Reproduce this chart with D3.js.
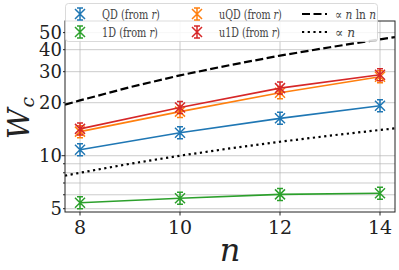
<!DOCTYPE html>
<html><head><meta charset="utf-8">
<script src="https://cdn.jsdelivr.net/npm/d3@7"></script>
<style>body{margin:0;background:#fff}svg{display:block}text{font-family:"DejaVu Serif",serif}</style>
</head><body>
<script>
const nVals = [8, 10, 12, 14];
const qd = [10.8, 13.5, 16.3, 19.2];
const uqd = [13.7, 17.8, 22.8, 28.1];
const oneD = [5.41, 5.73, 6.03, 6.12];
const u1d = [14.2, 18.8, 24.2, 28.8];
const refN = [7.7, 8, 9, 10, 11, 12, 13, 14, 14.3];
const refNlnN = [19.5, 20.6, 24.5, 28.6, 32.7, 37.0, 41.3, 45.8, 47.2];
const refLinear = [7.7, 8, 9, 10, 11, 12, 13, 14, 14.3];
const xTicks = [8, 10, 12, 14];
const yTicksMajor = [5, 10, 20, 30, 40, 50];
const yGrid = [5, 6, 7, 8, 9, 10, 20, 30, 40, 50];

const series = [
  {name: "QD", values: qd, color: "#1f77b4"},
  {name: "1D", values: oneD, color: "#2ca02c"},
  {name: "uQD", values: uqd, color: "#ff7f0e"},
  {name: "u1D", values: u1d, color: "#d62728"}
];

const W = 399, H = 270;
const L = 65, R = 395, T = 21, B = 212;
const svg = d3.select("body").append("svg").attr("width", W).attr("height", H);
const x = d3.scaleLinear().domain([7.7, 14.3]).range([L, R]);
const y = d3.scaleLog().domain([4.79, 58.2]).range([B, T]);

svg.append("clipPath").attr("id","c").append("rect").attr("x",L).attr("y",T).attr("width",R-L).attr("height",B-T);

// grid
const g = svg.append("g");
g.selectAll(".vg").data(xTicks).enter().append("line")
  .attr("x1", d=>x(d)).attr("x2", d=>x(d)).attr("y1", T).attr("y2", B)
  .attr("stroke", "#b0b0b0").attr("stroke-width", 0.8).attr("opacity", 0.8);
g.selectAll(".hg").data(yGrid).enter().append("line")
  .attr("x1", L).attr("x2", R).attr("y1", d=>y(d)).attr("y2", d=>y(d))
  .attr("stroke", "#b0b0b0").attr("stroke-width", 0.8).attr("opacity", 0.8);

// reference lines
const refLine = d3.line().x(d=>x(d[0])).y(d=>y(d[1]));
const pg = svg.append("g").attr("clip-path","url(#c)");
pg.append("path").attr("d", refLine(refN.map((n,i)=>[n, refNlnN[i]])))
  .attr("fill","none").attr("stroke","#000").attr("stroke-width",2.2).attr("stroke-dasharray","8,3.5");
pg.append("path").attr("d", refLine(refN.map((n,i)=>[n, refLinear[i]])))
  .attr("fill","none").attr("stroke","#000").attr("stroke-width",2.2).attr("stroke-dasharray","2.2,3.5");

function marker(sel, cx, cy, color) {
  const s = 5;
  sel.append("path")
    .attr("d", `M${cx-s},${cy-s}L${cx+s},${cy+s}M${cx-s},${cy+s}L${cx+s},${cy-s}M${cx},${cy-s-1}L${cx},${cy+s+1}M${cx-3},${cy-s-1}L${cx+3},${cy-s-1}M${cx-3},${cy+s+1}L${cx+3},${cy+s+1}`)
    .attr("stroke", color).attr("stroke-width", 1.5).attr("fill","none");
}

series.forEach(s => {
  pg.append("path").attr("d", refLine(nVals.map((n,i)=>[n, s.values[i]])))
    .attr("fill","none").attr("stroke", s.color).attr("stroke-width", 1.6);
  nVals.forEach((n,i)=> marker(pg, x(n), y(s.values[i]), s.color));
});

// spines
svg.append("rect").attr("x",L).attr("y",T).attr("width",R-L).attr("height",B-T)
  .attr("fill","none").attr("stroke","#222").attr("stroke-width",1);

// ticks
xTicks.forEach(t => {
  svg.append("line").attr("x1",x(t)).attr("x2",x(t)).attr("y1",B).attr("y2",B+3.5).attr("stroke","#222");
  svg.append("text").attr("x",x(t)).attr("y",B+22).attr("text-anchor","middle")
    .attr("font-size",19).attr("fill","#222").text(t);
});
yGrid.forEach(t => {
  const major = (t===10);
  svg.append("line").attr("x1",L-(major?3.5:2)).attr("x2",L).attr("y1",y(t)).attr("y2",y(t)).attr("stroke","#222");
});
yTicksMajor.forEach(t => {
  svg.append("text").attr("x",L-3).attr("y",y(t)+6.5).attr("text-anchor","end")
    .attr("font-size",18).attr("fill","#222").text(t);
});

// axis labels
svg.append("text").attr("transform","translate(29,118) rotate(-90)").attr("text-anchor","middle")
  .attr("font-size",30).attr("fill","#222")
  .html('<tspan font-style="italic">W</tspan><tspan font-style="italic" font-size="19" dy="5" dx="1">c</tspan>');
svg.append("text").attr("x",230).attr("y",261).attr("text-anchor","middle")
  .attr("font-size",32).attr("font-style","italic").attr("fill","#222").text("n");

// legend
const lg = svg.append("g");
lg.append("rect").attr("x",65.5).attr("y",3.5).attr("width",312).attr("height",38).attr("rx",3)
  .attr("fill","#fff").attr("fill-opacity",0.85).attr("stroke","#d0d0d0").attr("stroke-width",0.8);

function fitText(sel, tx, ty, html, target) {
  const t = sel.append("text").attr("x",0).attr("y",0)
    .attr("font-size",13).attr("fill","#444").html(html);
  const w0 = t.node().getComputedTextLength();
  const k = Math.min(1, target / w0);
  t.attr("transform", `translate(${tx},${ty}) scale(${k},1)`);
}

const items = [
  {label:"QD", color:"#1f77b4", col:0, row:0, w:58},
  {label:"1D", color:"#2ca02c", col:0, row:1, w:56},
  {label:"uQD", color:"#ff7f0e", col:1, row:0, w:63},
  {label:"u1D", color:"#d62728", col:1, row:1, w:61}
];
const colX = [80, 197];
const rowY = [14, 32];
items.forEach(it => {
  marker(lg, colX[it.col], rowY[it.row], it.color);
  fitText(lg, colX[it.col]+22, rowY[it.row]+5,
    `${it.label} (from <tspan font-style="italic">r</tspan>)`, it.w);
});
lg.append("line").attr("x1",302).attr("x2",327).attr("y1",14).attr("y2",14)
  .attr("stroke","#000").attr("stroke-width",2.2).attr("stroke-dasharray","8,3.5");
lg.append("line").attr("x1",302).attr("x2",327).attr("y1",32).attr("y2",32)
  .attr("stroke","#000").attr("stroke-width",2.2).attr("stroke-dasharray","2.2,3.5");
fitText(lg, 335, 19, '∝ <tspan font-style="italic">n</tspan> ln <tspan font-style="italic">n</tspan>', 41);
fitText(lg, 335, 37, '∝ <tspan font-style="italic">n</tspan>', 20);
</script>
</body></html>
